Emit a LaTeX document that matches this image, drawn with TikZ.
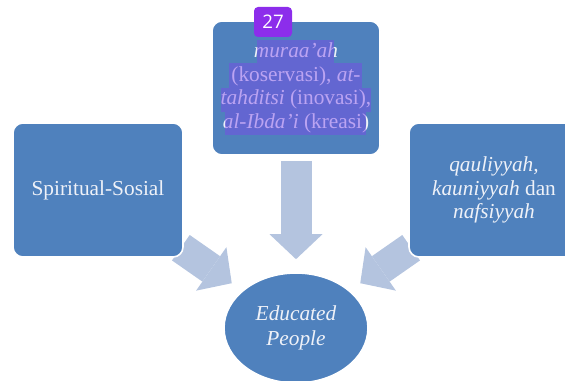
\documentclass[tikz,border=0pt]{standalone}
\usepackage{fontspec}
\setmainfont{Liberation Serif}
\newfontfamily\badgefont{Open Sans}
\usetikzlibrary{arrows.meta,shapes.geometric,backgrounds}
\definecolor{boxblue}{RGB}{79,129,189}
\definecolor{arrowblue}{RGB}{180,196,223}
\definecolor{paletext}{RGB}{238,241,248}
\definecolor{marker}{RGB}{125,70,235}
\definecolor{badgeviolet}{RGB}{140,45,235}

\begin{document}
\begin{tikzpicture}[x=0.75pt,y=-0.75pt,
        blok/.style={draw=white,line width=1.2pt,fill=boxblue,rounded corners=7.5pt,
            minimum width=127.5pt,minimum height=100.5pt,align=center,
            text=paletext,font=\fontsize{16}{17.8}\selectfont},
        panah/.style={arrowblue,line width=23.25pt,
            -{Triangle[length=18.75pt,width=39.75pt,line width=0pt]}},
        stabilo/.style={fill=marker,fill opacity=0.45}]
    \useasboundingbox (0,0) rectangle (565,381);

    \node[blok,minimum width=126pt] (puncak) at (296,88)
        {\textit{muraa’ah}\\(koservasi), \textit{at-}\\\textit{tahditsi} (inovasi),\\\textit{al-Ibda’i} (kreasi)};
    \node[blok] (kiri) at (98,190) {Spiritual-Sosial};
    \node[blok] (kanan) at (494,190)
        {\textit{qauliyyah,}\\\textit{kauniyyah} dan\\\textit{nafsiyyah}};
    \node[blok,ellipse,rounded corners=0pt,minimum width=108pt,minimum height=82.5pt,
        inner sep=0pt,font=\fontsize{16}{18.75}\selectfont\itshape] (edu) at (296,328)
        {Educated\\People};

    \begin{scope}[on background layer]
        \draw[panah,shorten <=3.75pt,shorten >=9.75pt] (puncak) -- (edu);
        \draw[panah,shorten <=-2.7pt,shorten >=9.5pt] (kiri) -- (edu);
        \draw[panah,shorten <=-2.7pt,shorten >=9.5pt] (kanan) -- (edu);
    \end{scope}

    \fill[stabilo] (257,40) rectangle (334,63);
    \fill[stabilo] (229,63) rectangle (362,88);
    \fill[stabilo] (221,88) rectangle (371,112);
    \fill[stabilo] (225,112) rectangle (366,135);

    \node[fill=badgeviolet,rounded corners=3pt,minimum width=28.5pt,minimum height=22.5pt,
        text=white,font=\badgefont\fontsize{14}{14}\selectfont] (nomor) at (273,22) {27};
\end{tikzpicture}
\end{document}
